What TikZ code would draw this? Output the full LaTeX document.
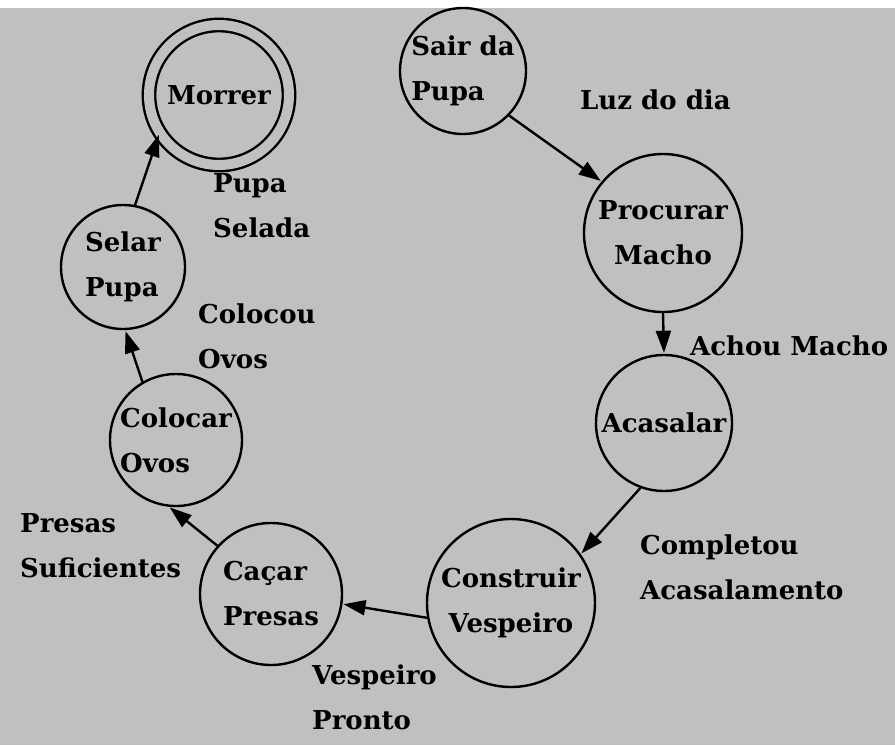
\documentclass[tikz,border=0pt]{standalone}
\usepackage{fontspec}
\setmainfont{DejaVu Serif}
\usetikzlibrary{arrows.meta}
\definecolor{bg}{RGB}{192,192,192}
\begin{document}
\begin{tikzpicture}[x=1pt,y=-1pt,
  txt/.style={font=\fontsize{26}{45}\selectfont\bfseries},
  state/.style={txt, draw, circle, line width=2.4pt, inner sep=0pt},
  lbl/.style={txt, align=left, inner sep=0pt, anchor=north west},
  arr/.style={line width=2.4pt, -{Triangle[length=22pt,width=15pt]}, shorten >=1pt}]
\fill[white] (0,0) rectangle (895,745);
\fill[bg] (0,8) rectangle (895,745);
\useasboundingbox (0,0) rectangle (895,745);
% states
\node[state, minimum size=140pt, double=bg, double distance=10pt] (mo) at (219,95) {Morrer};
\node[state, minimum size=126pt, align=left] (sp) at (463,71) {Sair da\\Pupa};
\node[state, minimum size=158pt, align=center] (pm) at (663,233) {Procurar\\Macho};
\node[state, minimum size=136pt] (ac) at (664,423) {Acasalar};
\node[state, minimum size=168pt, align=center] (cv) at (511,603) {Construir\\Vespeiro};
\node[state, minimum size=142pt, align=left] (cp) at (271,594) {Caçar\\Presas};
\node[state, minimum size=132pt, align=left] (co) at (176,440) {Colocar\\Ovos};
\node[state, minimum size=124pt, align=left] (se) at (123,267) {Selar\\Pupa};
% transitions
\draw[arr] (sp.316) -- (pm.140);
\draw[arr] (pm.270) -- (ac.90);
\draw[arr] (ac.250) -- (cv.35);
\draw[arr] (cv.190) -- (cp.352);
\draw[arr] (cp.138) -- (co.264);
\draw[arr] (co.120) -- (se.272);
\draw[arr] (se.79) -- (mo.213);
% labels
\node[lbl] (l1) at (580,90) {Luz do dia};
\node[lbl] (l2) at (690,336) {Achou Macho};
\node[lbl] (l3) at (640,535) {Completou\\Acasalamento};
\node[lbl] (l4) at (312,665) {Vespeiro\\Pronto};
\node[lbl] (l5) at (20,513) {Presas\\Suficientes};
\node[lbl] (l6) at (198,304) {Colocou\\Ovos};
\node[lbl] (l7) at (213,173) {Pupa\\Selada};
\end{tikzpicture}
\end{document}
